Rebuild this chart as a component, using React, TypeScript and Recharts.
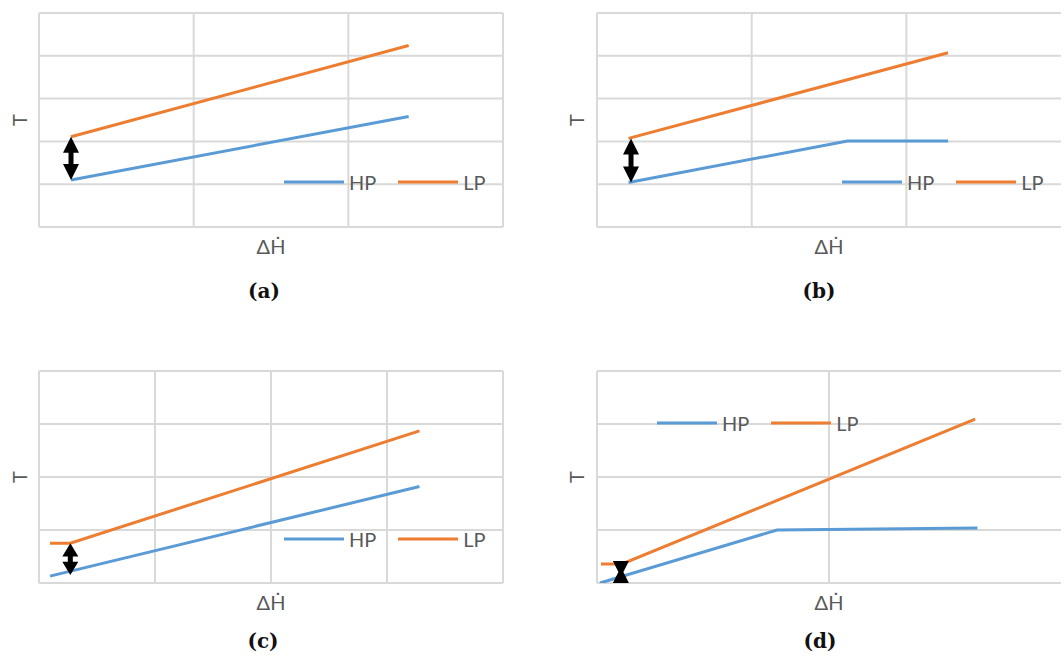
import React from "react"
import { LineChart, Line, XAxis, YAxis, Legend, ReferenceLine } from "recharts"

// axis grids
const ticks0to2 = [0, 1]
const ticks0to3 = [0, 1, 2, 3]
const ticks0to3Open = [0, 1, 2]
const ticks0to4 = [0, 1, 2, 3, 4]
const ticks0to5 = [0, 1, 2, 3, 4, 5]

// (a)
const hpA = [{ x: 0.207, y: 1.1 }, { x: 2.39, y: 2.58 }]
const lpA = [{ x: 0.207, y: 2.11 }, { x: 2.39, y: 4.24 }]
const gapA = [{ x: 0.207, y: 2.11 }, { x: 0.207, y: 1.1 }]

// (b)
const hpB = [{ x: 0.204, y: 1.04 }, { x: 1.62, y: 2.01 }, { x: 2.27, y: 2.01 }]
const lpB = [{ x: 0.204, y: 2.07 }, { x: 2.27, y: 4.07 }]
const gapB = [{ x: 0.22, y: 2.07 }, { x: 0.22, y: 1.04 }]

// (c)
const hpC = [{ x: 0.095, y: 0.13 }, { x: 3.28, y: 1.82 }]
const lpC = [{ x: 0.095, y: 0.75 }, { x: 0.27, y: 0.75 }, { x: 3.28, y: 2.87 }]
const gapC = [{ x: 0.27, y: 0.75 }, { x: 0.27, y: 0.15 }]

// (d)
const hpD = [{ x: 0.013, y: 0 }, { x: 0.776, y: 1.0 }, { x: 1.64, y: 1.04 }]
const lpD = [{ x: 0.017, y: 0.36 }, { x: 0.108, y: 0.36 }, { x: 1.63, y: 3.09 }]
const gapD = [{ x: 0.103, y: 0.415 }, { x: 0.103, y: 0 }]

const BLUE = "#5b9bd5"
const ORANGE = "#ed7d31"
const GRID = "#d9d9d9"
const TEXT = "#595959"
const FONT = "Lato, 'Noto Sans', sans-serif"

const arrowShape = (kind: "out" | "in") => (props: any) => {
  const { x1, y1, y2 } = props
  const cx = x1
  const top = Math.min(y1, y2)
  const bottom = Math.max(y1, y2)
  const len = bottom - top
  const hw = 8
  if (kind === "in") {
    const mid = (top + bottom) / 2
    return (
      <path
        d={`M${cx - hw},${top} L${cx + hw},${top} L${cx + 2.5},${mid} L${cx + hw},${bottom} L${cx - hw},${bottom} L${cx - 2.5},${mid} Z`}
        fill="#000"
      />
    )
  }
  const h = Math.min(16, len * 0.42)
  const sw = 2.5
  return (
    <path
      d={`M${cx},${top} L${cx + hw},${top + h} L${cx + sw},${top + h} L${cx + sw},${bottom - h} L${cx + hw},${bottom - h} L${cx},${bottom} L${cx - hw},${bottom - h} L${cx - sw},${bottom - h} L${cx - sw},${top + h} L${cx - hw},${top + h} Z`}
      fill="#000"
    />
  )
}

const LegendContent = (props: any) => {
  const { payload } = props
  return (
    <div style={{ display: "flex", alignItems: "center", whiteSpace: "nowrap", fontFamily: FONT, fontSize: 20, color: TEXT, lineHeight: "24px" }}>
      {(payload || []).map((item: any, i: number) => (
        <div key={item.value} style={{ display: "flex", alignItems: "center", marginLeft: i === 0 ? 0 : 22 }}>
          <svg width={60} height={4} style={{ display: "block" }}>
            <line x1={0} y1={2} x2={60} y2={2} stroke={item.color} strokeWidth={3} />
          </svg>
          <span style={{ marginLeft: 5 }}>{item.value}</span>
        </div>
      ))}
    </div>
  )
}

type PanelProps = {
  left: number
  top: number
  margin: { top: number; right: number; left: number; bottom: number }
  yAxisWidth: number
  xDomain: number[]
  xTicks: number[]
  yDomain: number[]
  yTicks: number[]
  hp: { x: number; y: number }[]
  lp: { x: number; y: number }[]
  gap: { x: number; y: number }[]
  gapKind: "out" | "in"
  legendLeft: number
  legendTop: number
}

function Panel(p: PanelProps) {
  return (
    <div style={{ position: "absolute", left: p.left, top: p.top }}>
      <LineChart width={532} height={310} margin={p.margin}>
        <XAxis
          type="number"
          dataKey="x"
          domain={p.xDomain}
          ticks={p.xTicks}
          interval={0}
          allowDataOverflow
          tick={false}
          axisLine={false}
          tickLine={false}
          height={50}
          label={{ value: "\u0394\u1E22", position: "insideTop", offset: 13, fill: TEXT, fontSize: 20, fontFamily: FONT }}
        />
        <YAxis
          type="number"
          domain={p.yDomain}
          ticks={p.yTicks}
          interval={0}
          allowDataOverflow
          tick={false}
          axisLine={false}
          tickLine={false}
          width={p.yAxisWidth}
          label={{ value: "T", angle: -90, position: "center", fill: TEXT, fontSize: 20, fontFamily: FONT }}
        />
        {p.yTicks.map((t) => (
          <ReferenceLine key={"h" + t} y={t} stroke={GRID} strokeWidth={2} ifOverflow="visible" />
        ))}
        {p.xTicks.map((t) => (
          <ReferenceLine key={"v" + t} x={t} stroke={GRID} strokeWidth={2} ifOverflow="visible" />
        ))}
        <Legend
          layout="horizontal"
          align="center"
          verticalAlign="middle"
          content={LegendContent}
          wrapperStyle={{ left: p.legendLeft, top: p.legendTop, width: "auto" }}
        />
        <Line data={p.hp} dataKey="y" name="HP" stroke={BLUE} strokeWidth={3} dot={false} isAnimationActive={false} />
        <Line data={p.lp} dataKey="y" name="LP" stroke={ORANGE} strokeWidth={3} dot={false} isAnimationActive={false} />
        <ReferenceLine segment={p.gap} shape={arrowShape(p.gapKind)} ifOverflow="visible" />
      </LineChart>
    </div>
  )
}

const captionStyle: React.CSSProperties = {
  position: "absolute",
  width: 100,
  textAlign: "center",
  fontFamily: "'DejaVu Serif', serif",
  fontWeight: "bold",
  fontSize: 20,
  lineHeight: "24px",
  color: "#111",
}

export default function App() {
  return (
    <div style={{ position: "absolute", left: 0, top: 0, width: 1064, height: 660, overflow: "hidden", background: "#fff" }}>
      <Panel
        left={0}
        top={0}
        margin={{ top: 13, right: 29, left: 0, bottom: 33 }}
        yAxisWidth={39}
        xDomain={[0, 3]}
        xTicks={ticks0to3}
        yDomain={[0, 5]}
        yTicks={ticks0to5}
        hp={hpA}
        lp={lpA}
        gap={gapA}
        gapKind="out"
        legendLeft={284}
        legendTop={170}
      />
      <Panel
        left={532}
        top={0}
        margin={{ top: 13, right: 3, left: 25, bottom: 33 }}
        yAxisWidth={40}
        xDomain={[0, 3]}
        xTicks={ticks0to3Open}
        yDomain={[0, 5]}
        yTicks={ticks0to5}
        hp={hpB}
        lp={lpB}
        gap={gapB}
        gapKind="out"
        legendLeft={310}
        legendTop={170}
      />
      <Panel
        left={0}
        top={350}
        margin={{ top: 21, right: 29, left: 0, bottom: 27 }}
        yAxisWidth={39}
        xDomain={[0, 4]}
        xTicks={ticks0to4}
        yDomain={[0, 4]}
        yTicks={ticks0to4}
        hp={hpC}
        lp={lpC}
        gap={gapC}
        gapKind="out"
        legendLeft={284}
        legendTop={177}
      />
      <Panel
        left={532}
        top={350}
        margin={{ top: 21, right: 3, left: 25, bottom: 27 }}
        yAxisWidth={40}
        xDomain={[0, 2]}
        xTicks={ticks0to2}
        yDomain={[0, 4]}
        yTicks={ticks0to4}
        hp={hpD}
        lp={lpD}
        gap={gapD}
        gapKind="in"
        legendLeft={125}
        legendTop={61}
      />
      <div style={{ ...captionStyle, left: 214, top: 279 }}>(a)</div>
      <div style={{ ...captionStyle, left: 769, top: 279 }}>(b)</div>
      <div style={{ ...captionStyle, left: 213, top: 629 }}>(c)</div>
      <div style={{ ...captionStyle, left: 770, top: 629 }}>(d)</div>
    </div>
  )
}
